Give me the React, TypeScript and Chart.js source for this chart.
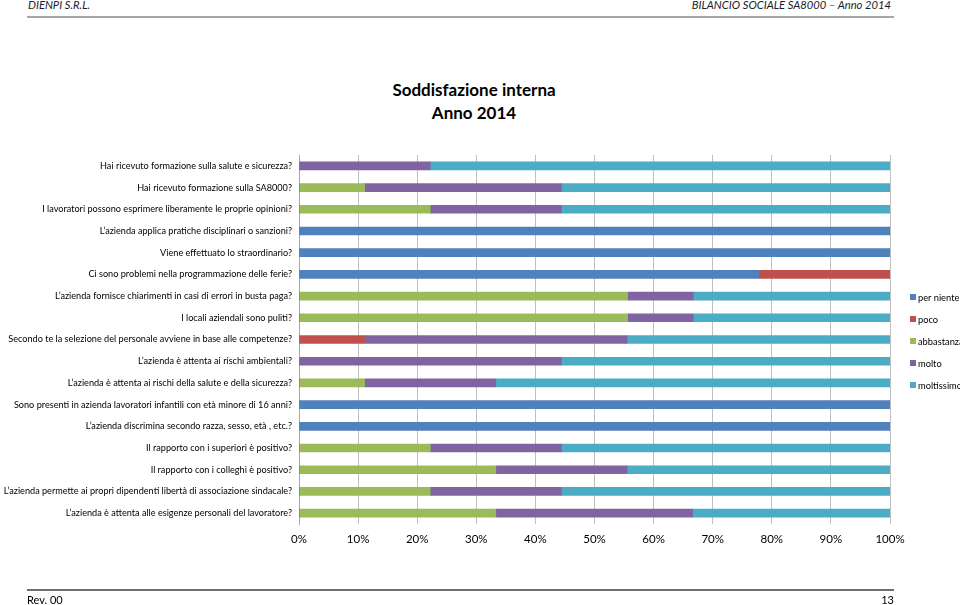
import React, { useEffect, useRef } from "react";
import { Chart, registerables } from "chart.js";

Chart.register(...registerables);

const categories = [
  "Hai ricevuto formazione sulla salute e sicurezza?",
  "Hai ricevuto formazione sulla SA8000?",
  "I lavoratori possono esprimere liberamente le proprie opinioni?",
  "L’azienda applica pratiche disciplinari o sanzioni?",
  "Viene effettuato lo straordinario?",
  "Ci sono problemi nella programmazione delle ferie?",
  "L’azienda fornisce chiarimenti in casi di errori in busta paga?",
  "I locali aziendali sono puliti?",
  "Secondo te la selezione del personale avviene in base alle competenze?",
  "L’azienda è attenta ai rischi ambientali?",
  "L’azienda è attenta ai rischi della salute e della sicurezza?",
  "Sono presenti in azienda lavoratori infantili con età minore di 16 anni?",
  "L’azienda discrimina secondo razza, sesso, età , etc.?",
  "Il rapporto con i superiori è positivo?",
  "Il rapporto con i colleghi è positivo?",
  "L’azienda permette ai propri dipendenti libertà di associazione sindacale?",
  "L’azienda è attenta alle esigenze personali del lavoratore?",
];

const perNiente = [0, 0, 0, 100, 100, 77.8, 0, 0, 0, 0, 0, 100, 100, 0, 0, 0, 0];
const poco = [0, 0, 0, 0, 0, 22.2, 0, 0, 11.1, 0, 0, 0, 0, 0, 0, 0, 0];
const abbastanza = [0, 11.1, 22.2, 0, 0, 0, 55.6, 55.6, 0, 0, 11.1, 0, 0, 22.2, 33.3, 22.2, 33.3];
const molto = [22.2, 33.3, 22.2, 0, 0, 0, 11.1, 11.1, 44.4, 44.4, 22.2, 0, 0, 22.2, 22.2, 22.2, 33.3];
const moltissimo = [77.8, 55.6, 55.6, 0, 0, 0, 33.3, 33.3, 44.5, 55.6, 66.7, 0, 0, 55.6, 44.5, 55.6, 33.4];

const seriesNames = ["per niente", "poco", "abbastanza", "molto", "moltissimo"];
const seriesColors = ["#4F81BD", "#C0504D", "#9BBB59", "#8064A2", "#4BACC6"];
const seriesValues = [perNiente, poco, abbastanza, molto, moltissimo];

const FONT = "Lato, 'Open Sans', sans-serif";

export default function App() {
  const canvasRef = useRef<HTMLCanvasElement | null>(null);

  useEffect(() => {
    const canvas = canvasRef.current;
    if (!canvas) return;
    const chart = new Chart(canvas, {
      type: "bar",
      data: {
        labels: categories,
        datasets: seriesNames.map((name, i) => ({
          label: name,
          data: seriesValues[i],
          backgroundColor: seriesColors[i],
          borderWidth: 0,
          barThickness: 8,
          stack: "s",
        })),
      },
      options: {
        indexAxis: "y",
        animation: false,
        responsive: false,
        maintainAspectRatio: false,
        layout: { padding: { top: 155, left: 3, right: 70, bottom: 59 } },
        plugins: {
          legend: { display: false },
          title: { display: false },
          tooltip: { enabled: false },
        },
        scales: {
          x: {
            stacked: true,
            min: 0,
            max: 100,
            ticks: {
              stepSize: 10,
              color: "#000",
              padding: 8,
              font: { family: FONT, size: 11.5 },
              callback: (v: any) => v + "%",
            },
            grid: { color: "#BFBFBF", lineWidth: 1, drawTicks: false },
            border: { display: false },
            afterFit: (s: any) => {
              s.height = 22;
            },
          },
          y: {
            stacked: true,
            ticks: {
              color: "#000",
              padding: 7,
              autoSkip: false,
              font: { family: FONT, size: 9.15 },
            },
            grid: { display: false, drawTicks: false },
            border: { display: true, color: "#A6A6A6", width: 1 },
            afterFit: (s: any) => {
              s.width = 296;
            },
          },
        },
      },
    });
    return () => chart.destroy();
  }, []);

  return (
    <div
      style={{
        position: "absolute",
        left: 0,
        top: 0,
        width: 960,
        height: 605,
        overflow: "hidden",
        background: "#fff",
        fontFamily: FONT,
      }}
    >
      <div style={{ position: "absolute", left: 28, top: -2, fontSize: 11.2, lineHeight: "14px", fontStyle: "italic", color: "#1b1b2b" }}>
        DIENPI S.R.L.
      </div>
      <div style={{ position: "absolute", right: 69, top: -2, fontSize: 11.2, lineHeight: "14px", fontStyle: "italic", color: "#1b1b2b" }}>
        BILANCIO SOCIALE SA8000 – Anno 2014
      </div>
      <div style={{ position: "absolute", left: 27, top: 16, width: 867, height: 2, background: "#A6A6A6" }} />

      <div
        style={{
          position: "absolute",
          left: 0,
          top: 78,
          width: 948,
          textAlign: "center",
          fontSize: 17,
          fontWeight: "bold",
          lineHeight: "23px",
          color: "#000",
        }}
      >
        <div>Soddisfazione interna</div>
        <div>Anno 2014</div>
      </div>

      <canvas ref={canvasRef} width={960} height={605} style={{ position: "absolute", left: 0, top: 0, width: 960, height: 605 }} />

      {seriesNames.map((name, i) => (
        <div
          key={name}
          style={{ position: "absolute", left: 910, top: 290 + i * 22, height: 14, display: "flex", alignItems: "center", whiteSpace: "nowrap", fontSize: 9.3, color: "#000" }}
        >
          <span style={{ display: "inline-block", width: 6, height: 6, background: seriesColors[i], marginRight: 2 }} />
          <span>{name}</span>
        </div>
      ))}

      <div style={{ position: "absolute", left: 27, top: 589, width: 867, height: 2, background: "#6E6E6E" }} />
      <div style={{ position: "absolute", left: 27, top: 594, fontSize: 11, lineHeight: "12px", color: "#000" }}>Rev. 00</div>
      <div style={{ position: "absolute", right: 66, top: 594, fontSize: 11, lineHeight: "12px", color: "#000" }}>13</div>
    </div>
  );
}
